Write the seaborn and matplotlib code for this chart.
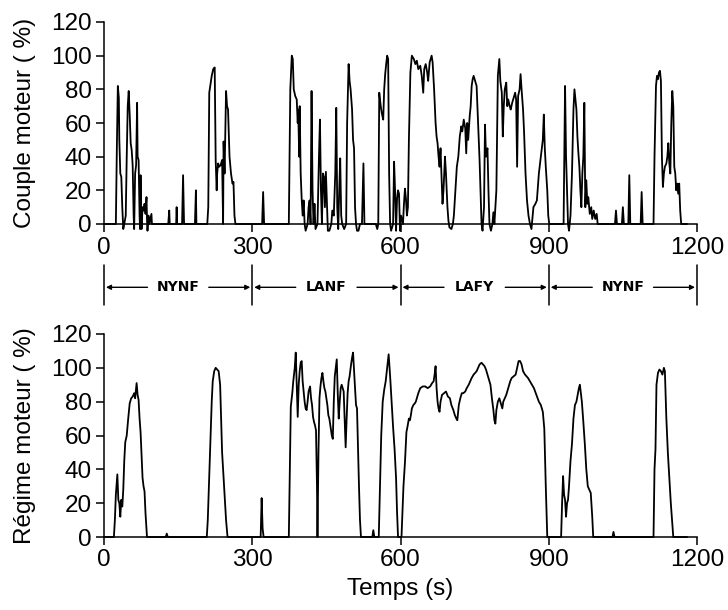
import numpy as np
import pandas as pd
import matplotlib
matplotlib.use("Agg")
import matplotlib.pyplot as plt
import seaborn as sns

# Couple moteur (torque) as (time s, %) pairs
couple_t = [0, 24, 26, 28, 30, 31, 33, 35, 37, 39, 41, 44, 46, 48, 50, 52, 54, 56, 58, 59,
            60, 61, 63, 65, 67, 68, 70, 71, 72, 73, 74, 75, 76, 78, 80, 82, 84, 86, 87, 88,
            90, 92, 96, 97, 130, 132, 133, 146, 147, 148, 158, 160, 162, 184, 186, 187,
            209, 211, 213, 215, 218, 221, 224, 226, 228, 229, 231, 233, 236, 239, 241, 242,
            244, 247, 249, 251, 254, 257, 260, 262, 264, 266, 320, 322, 324,
            374, 377, 380, 382, 384, 387, 390, 392, 393, 395, 396, 398, 400, 402, 404, 406,
            408, 412, 414, 416, 418, 420, 422, 424, 426, 428, 432, 435, 437, 439, 441, 443,
            445, 447, 449, 451, 453, 456, 460, 462, 465, 468, 470, 472, 474, 476, 478, 480,
            482, 486, 490, 492, 495, 497, 499, 502, 504, 506, 508, 510, 512, 515, 518, 522,
            525, 527, 550, 553, 555, 557, 560, 562, 565, 567, 569, 571, 573, 575, 577, 579,
            581, 585, 587, 589, 591, 593, 595, 597, 599, 601, 605, 607, 609, 611, 613, 615,
            617, 620, 623, 627, 630, 633, 636, 640, 643, 646, 648, 651, 654, 656, 659, 663,
            665, 668, 671, 673, 675, 677, 679, 681, 683, 685, 687, 690, 692, 695, 697, 699,
            703, 706, 708, 711, 714, 717, 720, 723, 725, 728, 731, 733, 735, 737, 740, 742,
            744, 746, 748, 751, 754, 757, 760, 762, 764, 766, 769, 771, 773, 776, 778, 780,
            783, 786, 788, 790, 794, 797, 800, 802, 805, 807, 809, 811, 814, 816, 818, 821,
            823, 826, 829, 832, 834, 836, 838, 841, 843, 845, 848, 850, 853, 856, 859, 862,
            865, 869, 873, 876, 880, 884, 888, 890, 892, 894, 897, 899, 901, 930, 933, 935,
            937, 939, 941, 944, 947, 950, 952, 954, 956, 958, 960, 962, 964, 966, 968, 970,
            972, 974, 976, 978, 980, 983, 986, 988, 991, 994, 997, 999, 1034, 1036, 1038,
            1048, 1050, 1052, 1061, 1063, 1065, 1086, 1088, 1090, 1112, 1114, 1117, 1119,
            1121, 1123, 1125, 1127, 1129, 1131, 1133, 1135, 1138, 1140, 1142, 1144, 1146,
            1148, 1150, 1152, 1154, 1156, 1158, 1160, 1162, 1164, 1166, 1168, 1180]
couple_v = [0, 0, 45, 82, 75, 50, 30, 28, 10, -3, 0, 5, 40, 70, 79, 65, 48, 44, 35, 20,
            5, -3, 30, 35, 72, 40, 38, 20, 5, -3, 29, 10, -3, 10, 8, 12, 6, 16, 3, -4,
            5, 0, 6, 0, 0, 8, 0, 0, 10, 0, 0, 29, 0, 0, 20, 0,
            0, 10, 78, 82, 88, 92, 93, 38, 20, 30, 36, 34, 35, 38, 0, 49,
            30, 79, 70, 68, 40, 30, 24, 25, 5, 0, 0, 19, 0,
            0, 80, 100, 98, 80, 76, 74, 60, 68, 40, 70, 30, 15, 5, 14, 0,
            -4, 0, 10, 14, 0, 79, 20, 0, 12, -3, 0, 40, 62, 20, 0, 30,
            28, 10, 31, 14, -4, -4, 0, 8, 5, 30, 69, 10, -3, 20, 39, 5,
            0, -3, 0, 60, 95, 85, 80, 68, 50, 45, 10, 0, -4, -4, 0, 0,
            36, 0, 0, -3, 0, 78, 70, 66, 62, 80, 89, 95, 100, 98, 30, 0,
            -4, 0, 37, 20, -4, 15, 20, 18, -4, 5, 0, 12, 21, 15, 5, 10,
            50, 90, 100, 98, 95, 97, 92, 94, 88, 78, 92, 95, 90, 85, 96, 100,
            96, 80, 60, 52, 48, 40, 34, 45, 28, 12, 20, 40, 30, 10, 2, -2,
            -3, 0, 5, 20, 34, 40, 52, 58, 55, 62, 57, 42, 60, 50, 64, 70,
            82, 86, 88, 85, 82, 60, 38, 20, 0, -4, 10, 59, 40, 45, 20, 0,
            -4, 0, 7, 0, 20, 88, 98, 85, 78, 52, 70, 80, 84, 70, 74, 70,
            68, 72, 75, 78, 74, 34, 76, 80, 89, 80, 68, 55, 30, 14, 5, 0,
            -3, 10, 12, 14, 30, 40, 50, 65, 45, 34, 20, 5, 0, 0, 82, 40,
            20, 0, -4, 5, 30, 68, 80, 74, 68, 52, 42, 34, 20, 10, 30, 40,
            72, 10, 26, 12, 16, 6, 10, 3, 8, 3, 6, 0, 0, 8, 0,
            0, 10, 0, 0, 29, 0, 0, 19, 0, 0, 40, 82, 88,
            86, 90, 91, 85, 40, 22, 30, 34, 36, 40, 48, 36, 30,
            60, 79, 70, 34, 30, 20, 24, 18, 24, 8, 0, 0]

# Regime moteur (engine speed)
regime_t = [0, 20, 22, 24, 27, 29, 31, 33, 35, 37, 39, 41, 43, 46, 49, 52, 55, 58, 61, 63,
            66, 68, 70, 72, 74, 76, 78, 80, 82, 84, 87, 125, 127, 129,
            208, 210, 212, 214, 216, 218, 220, 223, 226, 229, 232, 235, 237, 239, 241, 243,
            245, 247, 250, 317, 319, 321, 323,
            374, 376, 378, 381, 383, 386, 388, 390, 392, 394, 396, 398, 400, 402, 404, 406,
            408, 410, 412, 414, 417, 419, 421, 423, 425, 427, 429, 431, 432, 434, 436, 438,
            440, 442, 444, 446, 448, 450, 452, 454, 456, 458, 461, 463, 465, 467, 469, 471,
            473, 475, 477, 479, 481, 483, 485, 487, 489, 491, 493, 495, 497, 500, 502, 504,
            506, 508, 510, 512, 514, 516, 518, 520, 543, 545, 547,
            556, 558, 561, 564, 567, 570, 573, 576, 579, 582, 585, 588, 591, 593, 595,
            602, 606, 609, 612, 614, 617, 619, 621, 623, 626, 629, 631, 633, 636, 640, 645,
            650, 655, 660, 664, 667, 669, 671, 673, 675, 677, 679, 681, 684, 688, 692, 696,
            700, 703, 707, 710, 713, 715, 718, 721, 724, 727, 731, 734, 738, 741, 744, 748,
            751, 754, 757, 760, 764, 767, 770, 773, 776, 779, 782, 785, 788, 790, 792, 794,
            797, 800, 803, 806, 808, 811, 814, 818, 822, 825, 829, 833, 836, 839, 842, 845,
            848, 852, 855, 858, 862, 866, 870, 875, 880, 884, 888, 891, 894, 897,
            925, 927, 929, 931, 933, 935, 937, 939, 941, 944, 947, 950, 953, 956, 959, 961,
            963, 965, 967, 970, 973, 976, 979, 982, 985, 988, 990, 1029, 1031, 1033,
            1112, 1114, 1116, 1118, 1121, 1124, 1127, 1130, 1133, 1135, 1138, 1141, 1144,
            1147, 1150, 1152, 1180]
regime_v = [0, 0, 10, 25, 37, 22, 20, 12, 22, 18, 28, 45, 56, 60, 70, 79, 82, 83, 85, 82,
            91, 84, 81, 70, 62, 48, 35, 30, 27, 14, 0, 0, 2, 0,
            0, 10, 28, 48, 62, 80, 92, 98, 100, 99, 98, 90, 70, 50, 40, 30,
            20, 10, 0, 0, 23, 5, 0,
            0, 40, 77, 85, 92, 100, 109, 90, 71, 90, 98, 103, 104, 92, 86, 80,
            76, 75, 80, 86, 89, 82, 78, 71, 68, 66, 63, 30, 0, 50, 82, 89,
            94, 97, 92, 88, 86, 82, 78, 72, 70, 66, 60, 58, 80, 95, 100, 105,
            85, 70, 80, 88, 90, 88, 86, 70, 53, 70, 85, 92, 95, 102, 106, 109,
            98, 88, 78, 76, 52, 30, 10, 0, 0, 4, 0,
            0, 25, 60, 80, 87, 92, 100, 108, 95, 80, 65, 52, 35, 15, 0,
            0, 30, 44, 62, 65, 70, 69, 72, 76, 78, 79, 80, 82, 85, 88, 89,
            89, 88, 89, 91, 92, 96, 101, 88, 80, 76, 74, 80, 84, 85, 86, 83,
            82, 78, 75, 72, 70, 69, 78, 82, 85, 85, 86, 88, 90, 92, 94, 96,
            97, 98, 100, 102, 103, 102, 101, 99, 96, 93, 90, 82, 75, 69, 67, 75,
            80, 82, 79, 76, 80, 82, 84, 88, 92, 94, 95, 96, 100, 104, 104, 102,
            98, 96, 95, 94, 92, 90, 88, 84, 80, 78, 74, 64, 30, 0,
            0, 20, 36, 25, 22, 12, 20, 22, 30, 45, 55, 70, 78, 80, 85, 88,
            90, 85, 80, 68, 55, 40, 30, 28, 26, 12, 0, 0, 3, 0,
            0, 40, 52, 90, 97, 99, 98, 96, 100, 98, 70, 50, 35,
            20, 8, 0, 0]

ticks_x = [0, 300, 600, 900, 1200]
ticks_y = [0, 20, 40, 60, 80, 100, 120]
segments = ["NYNF", "LANF", "LAFY", "NYNF"]
bounds = [0, 300, 600, 900, 1200]

df_couple = pd.DataFrame({"t": couple_t, "v": couple_v})
df_regime = pd.DataFrame({"t": regime_t, "v": regime_v})

sns.set_style("ticks")
plt.rcParams["font.family"] = ["Liberation Sans", "DejaVu Sans"]
fs = 17.5

fig = plt.figure(figsize=(7.28, 6.10), dpi=100)
ax1 = fig.add_axes([104 / 728, 1 - 224 / 610, 593 / 728, 202 / 610])
ax2 = fig.add_axes([104 / 728, 1 - 537 / 610, 593 / 728, 203 / 610])
band = fig.add_axes([104 / 728, 1 - 308 / 610, 593 / 728, 46 / 610])

for ax, df, label in [(ax1, df_couple, "Couple moteur ( %)"),
                      (ax2, df_regime, "Régime moteur ( %)")]:
    sns.lineplot(data=df, x="t", y="v", ax=ax, color="black", linewidth=1.3,
                 estimator=None, sort=False)
    ax.lines[-1].set_clip_on(False)
    ax.set_xlim(0, 1200)
    ax.set_ylim(0, 120)
    ax.set_xticks(ticks_x)
    ax.set_yticks(ticks_y)
    ax.tick_params(axis="both", labelsize=fs, direction="out", length=6,
                   width=1.1, color="black", labelcolor="black", pad=3)
    ax.set_ylabel(label, fontsize=fs, color="black")
    ax.yaxis.set_label_coords(-0.115, 0.5)
    ax.set_xlabel("")
    for side in ["top", "right"]:
        ax.spines[side].set_visible(False)
    for side in ["left", "bottom"]:
        ax.spines[side].set_color("black")
        ax.spines[side].set_linewidth(1.1)

ax2.set_xlabel("Temps (s)", fontsize=fs, color="black", labelpad=5)

# segment band between the two panels
band.set_xlim(0, 1200)
band.set_ylim(0, 1)
band.axis("off")
for b in bounds:
    band.plot([b, b], [0.07, 0.93], color="black", lw=1.1, clip_on=False)
for i, name in enumerate(segments):
    x0, x1 = bounds[i], bounds[i + 1]
    mid = (x0 + x1) / 2
    band.annotate("", xy=(x0 + 4, 0.45), xytext=(mid - 62, 0.45),
                  arrowprops=dict(arrowstyle="-|>", color="black", lw=1.0,
                                  mutation_scale=7, shrinkA=0, shrinkB=0))
    band.annotate("", xy=(x1 - 4, 0.45), xytext=(mid + 62, 0.45),
                  arrowprops=dict(arrowstyle="-|>", color="black", lw=1.0,
                                  mutation_scale=7, shrinkA=0, shrinkB=0))
    band.text(mid, 0.45, name, ha="center", va="center", fontsize=10,
              fontweight="heavy", color="black", family="DejaVu Sans")

fig.savefig("out.png", dpi=100)
